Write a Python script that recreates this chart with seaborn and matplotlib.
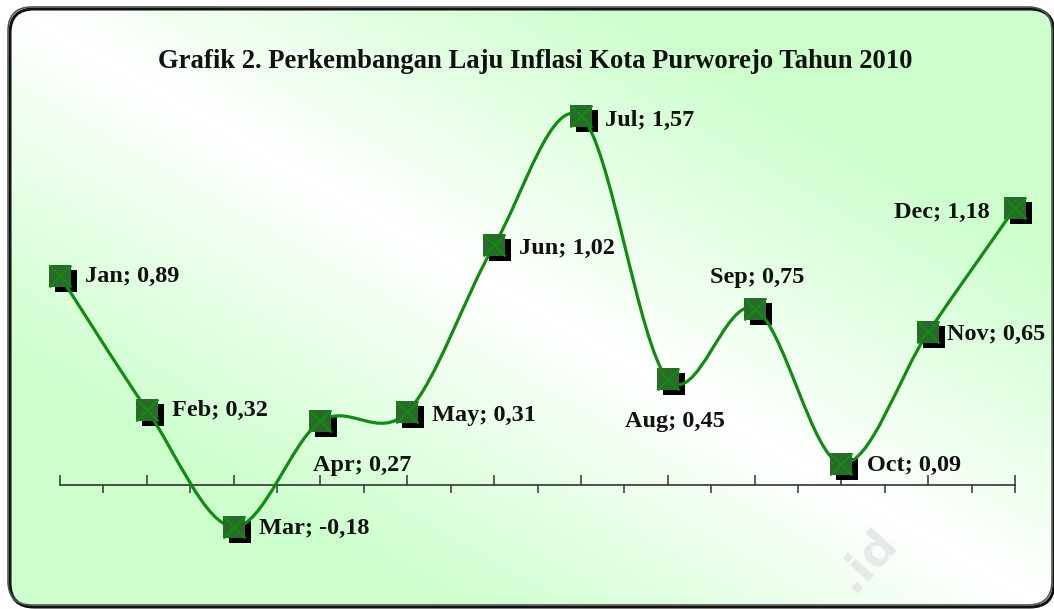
import matplotlib
matplotlib.use('Agg')
import matplotlib.pyplot as plt
import matplotlib.transforms as mtransforms
from matplotlib.patches import FancyBboxPatch, PathPatch
from matplotlib.path import Path
import numpy as np
import pandas as pd
import seaborn as sns

# data
months = ['Jan', 'Feb', 'Mar', 'Apr', 'May', 'Jun',
          'Jul', 'Aug', 'Sep', 'Oct', 'Nov', 'Dec']
inflation = [0.89, 0.32, -0.18, 0.27, 0.31, 1.02,
             1.57, 0.45, 0.75, 0.09, 0.65, 1.18]
value_labels = ['0,89', '0,32', '-0,18', '0,27', '0,31', '1,02',
                '1,57', '0,45', '0,75', '0,09', '0,65', '1,18']
title = 'Grafik 2. Perkembangan Laju Inflasi Kota Purworejo Tahun 2010'

# label placement (pixel offsets from the point, y downward) and alignment
label_pos = {
    'Jan': (25, 1, 'left'), 'Feb': (25, 1, 'left'), 'Mar': (25, 2, 'left'),
    'Apr': (42, 44, 'center'), 'May': (25, 4, 'left'), 'Jun': (25, 3, 'left'),
    'Jul': (24, 4, 'left'), 'Aug': (7, 42, 'center'), 'Sep': (3, -31, 'center'),
    'Oct': (26, 2, 'left'), 'Nov': (19, 2, 'left'), 'Dec': (-25, 5, 'right'),
}

LINE = '#118c11'
MARK = '#2a6a2a'
FONT = ['Liberation Serif', 'DejaVu Serif']

sns.set_theme(style='white')
plt.rcParams['font.family'] = FONT

df = pd.DataFrame({'month': months, 'pos': range(len(months)), 'value': inflation})

W, H = 1054, 609
fig = plt.figure(figsize=(W / 100, H / 100), dpi=100)

# background panel: rounded box with diagonal white/green gradient
bg = fig.add_axes([0, 0, 1, 1])
bg.set_xlim(0, W)
bg.set_ylim(H, 0)
bg.axis('off')
yy, xx = np.mgrid[0:H, 0:W]
d = np.clip(np.abs(xx / W - yy / H) * 1.7, 0, 1)[..., None]
white = np.array([1.0, 1.0, 1.0])
green = np.array([0.80, 1.0, 0.80])
grad = white * (1 - d) + green * d
shadow_box = FancyBboxPatch((10, 9), 1044, 598, boxstyle='round,pad=0,rounding_size=24',
                            fc='none', ec='#111111', lw=2.2)
bg.add_patch(shadow_box)
box = FancyBboxPatch((8, 7), 1044, 598, boxstyle='round,pad=0,rounding_size=24',
                     fc='none', ec='#555555', lw=1.2)
bg.add_patch(box)
im = bg.imshow(grad, extent=(0, W, H, 0), aspect='auto', zorder=0)
im.set_clip_path(box)

bg.text(535, 61, title, ha='center', va='center', fontsize=19.2,
        fontweight='bold', color='#111111', family=FONT)
# faint watermark of the source site
bg.text(866, 560, '.id', ha='center', va='center', fontsize=34, rotation=48,
        fontweight='bold', color='#e6e9e6', family=['DejaVu Sans'], zorder=1)

# plot area
ax = fig.add_axes([60 / W, (H - 555) / H, 955 / W, 469 / H])
ax.patch.set_alpha(0)

# smoothed line (cubic Bezier through the points, like a spreadsheet "smoothed line")
pts = np.column_stack([df['pos'], df['value']]).astype(float)
verts = [pts[0]]
codes = [Path.MOVETO]
n = len(pts)
for i in range(n - 1):
    p0 = pts[max(i - 1, 0)]
    p1 = pts[i]
    p2 = pts[i + 1]
    p3 = pts[min(i + 2, n - 1)]
    verts += [p1 + (p2 - p0) / 6, p2 - (p3 - p1) / 6, p2]
    codes += [Path.CURVE4] * 3
ax.add_patch(PathPatch(Path(verts, codes), fc='none', ec=LINE, lw=2.3,
                       zorder=3, clip_on=False, capstyle='round'))

# markers: drop shadow, square, cross
shift = mtransforms.ScaledTranslation(6 / 100, -5 / 100, fig.dpi_scale_trans)
sns.scatterplot(data=df, x='pos', y='value', marker='s', s=250, color='black',
                linewidth=0, zorder=2, clip_on=False, ax=ax,
                transform=ax.transData + shift)
sns.scatterplot(data=df, x='pos', y='value', marker='s', s=250, color=MARK,
                linewidth=0, zorder=4, clip_on=False, ax=ax)
sns.scatterplot(data=df, x='pos', y='value', marker='x', s=250, color=LINE,
                linewidth=1.6, zorder=5, clip_on=False, ax=ax)

for m, v, lab in zip(months, inflation, value_labels):
    dx, dy, ha = label_pos[m]
    ax.annotate(f'{m}; {lab}', (months.index(m), v), xytext=(dx * 0.72, -dy * 0.72),
                textcoords='offset points', ha=ha, va='center', fontsize=17.5,
                fontweight='bold', color='#111111', family=FONT, zorder=6,
                annotation_clip=False)

ax.set_xlim(0, 11)
ax.set_ylim(-0.3, 1.7)
ax.set_xlabel('')
ax.set_ylabel('')
for side in ['left', 'top', 'right']:
    ax.spines[side].set_visible(False)
ax.spines['bottom'].set_position(('data', 0))
ax.spines['bottom'].set_color('#333333')
ax.spines['bottom'].set_linewidth(1.2)
ax.set_yticks([])
ax.set_xticks(range(12))
ax.set_xticks(list(np.arange(0.5, 11, 1.0)) + [11], minor=True)
ax.xaxis.remove_overlapping_locs = False
ax.set_xticklabels([])
ax.tick_params(axis='x', which='major', direction='in', length=7.2, width=1.1,
               color='#333333', bottom=True)
ax.tick_params(axis='x', which='minor', direction='out', length=5.8, width=1.1,
               color='#333333', bottom=True)

fig.savefig('out.png', dpi=100)
